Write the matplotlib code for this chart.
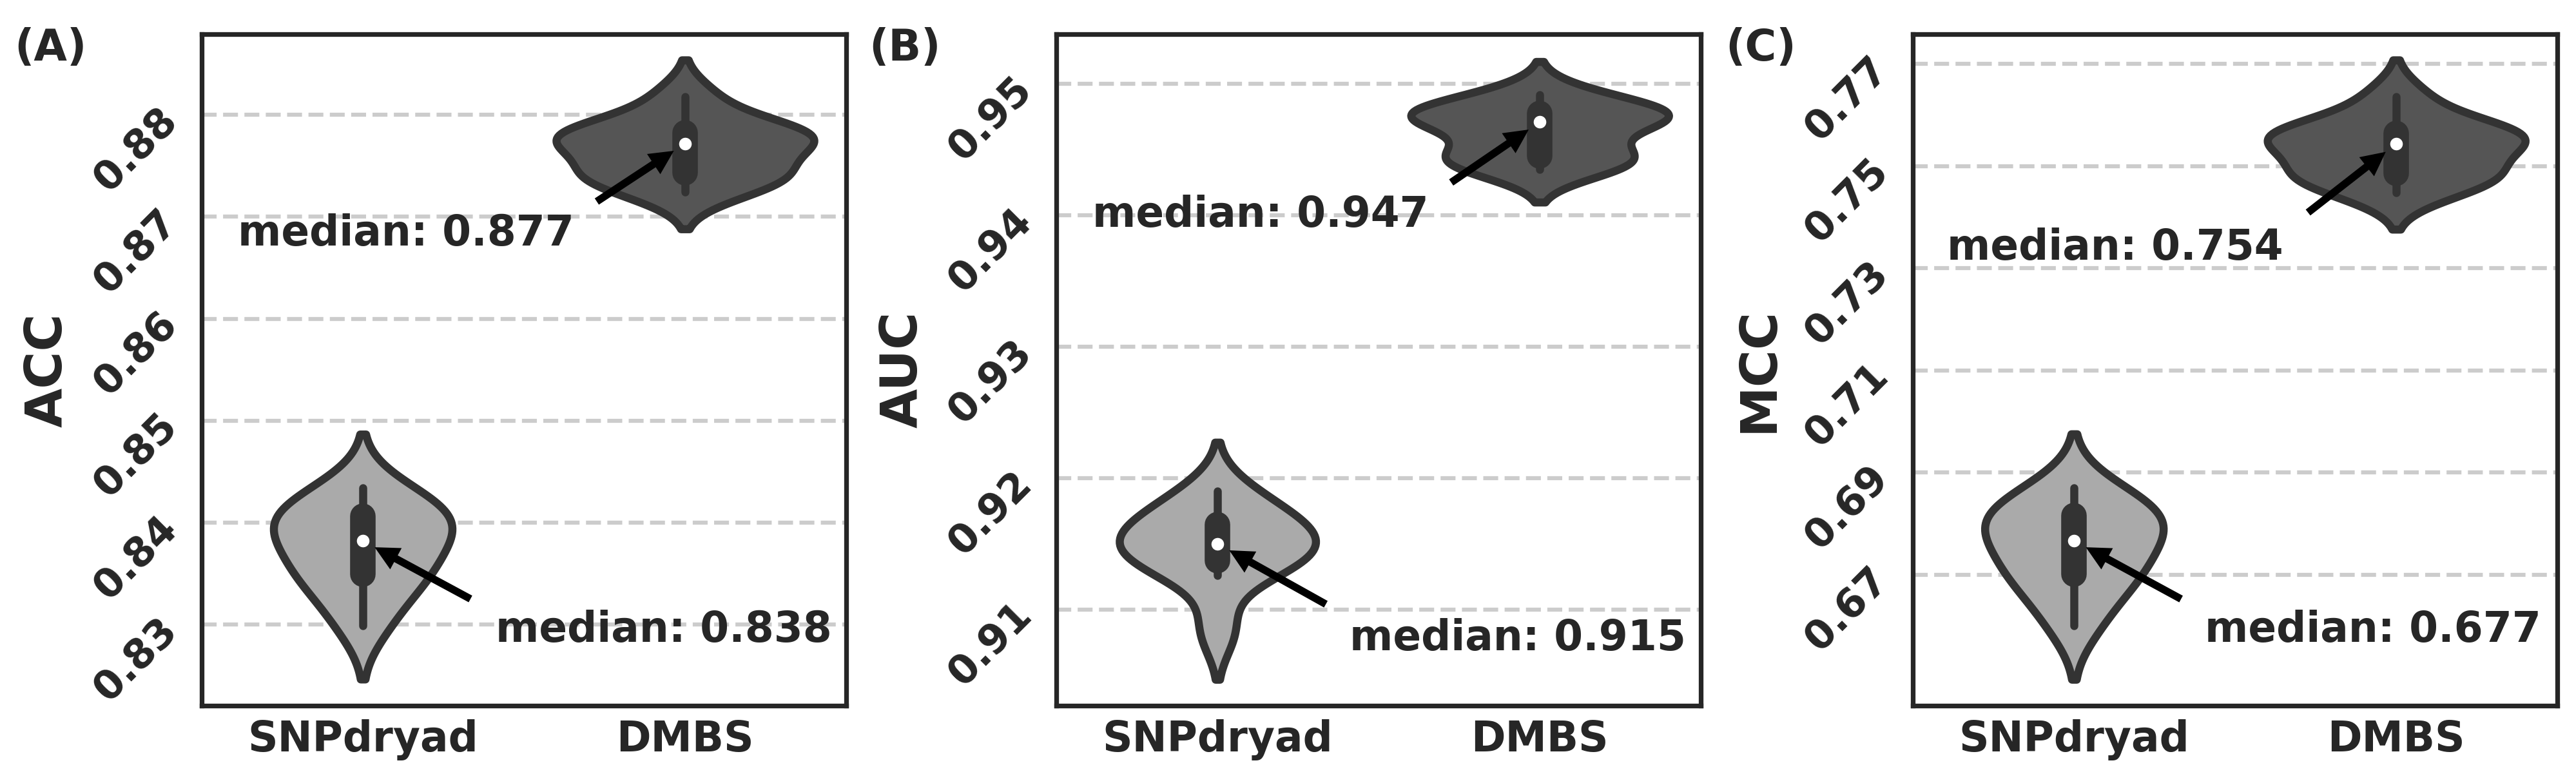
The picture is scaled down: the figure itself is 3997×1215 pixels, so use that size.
import numpy as np
import pandas as pd
import matplotlib
matplotlib.use('Agg')
import matplotlib.pyplot as plt
from matplotlib import cbook
from matplotlib.ticker import FormatStrFormatter
import seaborn as sns

methods = ['SNPdryad', 'DMBS']
metrics = ['ACC', 'AUC', 'MCC']
panel_tags = ['(A)', '(B)', '(C)']

# per-fold scores
acc_snpdryad = [0.8299, 0.8332, 0.8346, 0.8360, 0.8376, 0.8388, 0.8402, 0.8408, 0.8414, 0.8434]
acc_dmbs = [0.8724, 0.8737, 0.8742, 0.8746, 0.8768, 0.8776, 0.8780, 0.8783, 0.8786, 0.8818]
auc_snpdryad = [0.9084, 0.9126, 0.9136, 0.9141, 0.9146, 0.9154, 0.9160, 0.9166, 0.9176, 0.9190]
auc_dmbs = [0.9435, 0.9440, 0.9444, 0.9449, 0.9469, 0.9473, 0.9476, 0.9478, 0.9480, 0.9492]
mcc_snpdryad = [0.6600, 0.6666, 0.6694, 0.6722, 0.6754, 0.6778, 0.6806, 0.6818, 0.6830, 0.6870]
mcc_dmbs = [0.7448, 0.7474, 0.7484, 0.7492, 0.7536, 0.7552, 0.7560, 0.7566, 0.7572, 0.7636]

scores = [[acc_snpdryad, acc_dmbs], [auc_snpdryad, auc_dmbs], [mcc_snpdryad, mcc_dmbs]]

y_ticks = [[0.83, 0.84, 0.85, 0.86, 0.87, 0.88],
           [0.91, 0.92, 0.93, 0.94, 0.95],
           [0.67, 0.69, 0.71, 0.73, 0.75, 0.77]]

# layout (not data): axis limits and where the median notes sit
y_limits = [(0.82203, 0.88794), (0.90268, 0.9538), (0.64432, 0.77587)]
# (text x, text dy from median, arrow tail x, arrow tail dy) for SNPdryad / DMBS
note_layout = [
    [(0.412, -0.0099, 0.334, -0.0057), (-0.388, -0.0100, 0.726, -0.0057)],
    [(0.409, -0.0081, 0.336, -0.0046), (-0.389, -0.0080, 0.725, -0.0046)],
    [(0.406, -0.0198, 0.332, -0.0114), (-0.394, -0.0228, 0.726, -0.0135)],
]

fills = ['#aaaaaa', '#555555']
edge = '#333333'
txt = '#262626'

plt.rcParams['font.family'] = 'DejaVu Sans'
plt.rcParams['font.weight'] = 'bold'
plt.rcParams['axes.labelweight'] = 'bold'
plt.rcParams['text.color'] = txt
plt.rcParams['xtick.color'] = txt
plt.rcParams['ytick.color'] = txt
plt.rcParams['axes.labelcolor'] = txt

fig = plt.figure(figsize=(3997 / 300, 1215 / 300), dpi=300)
lefts = [0.0783, 0.4101, 0.7426]

for k in range(3):
    ax = fig.add_axes([lefts[k], 0.0988, 0.2502, 0.8578])
    df = pd.DataFrame({
        'method': np.repeat(methods, [len(scores[k][0]), len(scores[k][1])]),
        'value': np.concatenate(scores[k]),
    })
    # common_norm so both violins share one density scale (area scaling)
    sns.violinplot(data=df, x='method', y='value', hue='method', palette=fills,
                   legend=False, inner=None, linewidth=3, linecolor=edge,
                   saturation=1, cut=2, width=0.8, common_norm=True, ax=ax)

    for i, vals in enumerate(scores[k]):
        st = cbook.boxplot_stats(np.array(vals), whis=1.5)[0]
        ax.plot([i, i], [st['whislo'], st['whishi']], color=edge, lw=3,
                solid_capstyle='round', zorder=3)
        ax.plot([i, i], [st['q1'], st['q3']], color=edge, lw=9.5,
                solid_capstyle='round', zorder=3)
        med = np.median(vals)
        ax.scatter([i], [med], s=22, color='white', linewidths=0, zorder=4)

        tx, tdy, ax_x, ady = note_layout[k][i]
        ax.text(tx, med + tdy, f'median: {med:.3f}', fontsize=15.5,
                fontweight='bold', color=txt, ha='left', va='baseline', zorder=5)
        ax.annotate('', xy=(i, med), xytext=(ax_x, med + ady),
                    arrowprops=dict(arrowstyle='simple,head_length=0.9,head_width=0.9,tail_width=0.28',
                                    fc='black', ec='black', lw=0, shrinkA=0, shrinkB=5,
                                    mutation_scale=10), zorder=6)

    ax.set_xlim(-0.5, 1.5)
    ax.set_ylim(*y_limits[k])
    ax.set_yticks(y_ticks[k])
    ax.yaxis.set_major_formatter(FormatStrFormatter('%.2f'))
    ax.set_xlabel('')
    ax.set_ylabel(metrics[k], fontsize=19, fontweight='bold')
    ax.yaxis.set_label_coords(-0.201, 0.5)

    ax.set_axisbelow(True)
    ax.grid(axis='y', linestyle='--', color='#cccccc', linewidth=1.5)
    ax.grid(axis='x', visible=False)
    for sp in ax.spines.values():
        sp.set_color(txt)
        sp.set_linewidth(1.75)

    ax.tick_params(axis='x', length=0, pad=5, labelsize=15.5)
    ax.tick_params(axis='y', length=0, pad=11.5, labelsize=15)
    for lab in ax.get_xticklabels():
        lab.set_fontweight('bold')
    for lab in ax.get_yticklabels():
        lab.set_fontweight('bold')
        lab.set_rotation(45)
        lab.set_ha('right')
        lab.set_va('center')
        lab.set_rotation_mode('anchor')

    ax.text(-0.291, 1.0106, panel_tags[k], transform=ax.transAxes, fontsize=16,
            fontweight='bold', color=txt, ha='left', va='top')

fig.savefig('out.png', dpi=300)
